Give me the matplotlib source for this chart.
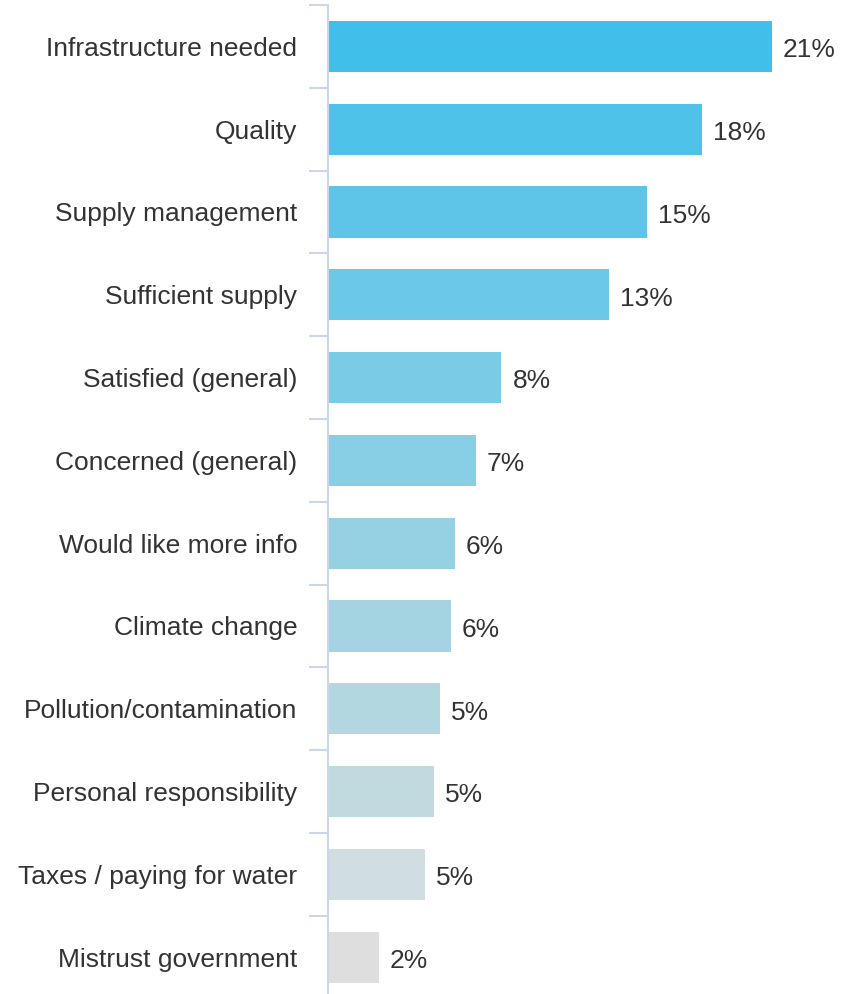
import matplotlib.pyplot as plt
from matplotlib.ticker import FixedLocator

plt.rcParams['font.family'] = ['Liberation Sans', 'DejaVu Sans']

temas = ['Infrastructure needed', 'Quality', 'Supply management', 'Sufficient supply',
         'Satisfied (general)', 'Concerned (general)', 'Would like more info',
         'Climate change', 'Pollution/contamination', 'Personal responsibility',
         'Taxes / paying for water', 'Mistrust government']
porcentagens = [21.0, 17.7, 15.1, 13.3, 8.2, 7.0, 6.0, 5.8, 5.3, 5.0, 4.6, 2.4]
cores = ['#40BFEA', '#4FC2E9', '#5EC5E8', '#6CC8E7', '#7ACBE5', '#88CEE4',
         '#96D1E3', '#A4D4E2', '#B3D7E1', '#C1DAE0', '#D0DDE1', '#DEDEDE']

eixo_cor = '#CCD6EB'
texto_cor = '#333333'
tam = 19

fig = plt.figure(figsize=(8.64, 9.94), dpi=100)
ax = fig.add_axes([328 / 864, 0.0, 1 - 328 / 864, 1 - 5 / 994])

pos = list(range(len(temas)))
ax.barh(pos, porcentagens, height=0.62, color=cores)

for y, v in zip(pos, porcentagens):
    ax.annotate(f'{v:.0f}%', (v, y), xytext=(8, -1), textcoords='offset points',
                va='center_baseline', ha='left', fontsize=tam, color=texto_cor)

ax.set_xlim(0, 536 / 21.14)
ax.set_ylim(-0.5 + 989 / 82.8, -0.5)

ax.set_yticks(pos)
ax.set_yticklabels(temas, fontsize=tam, color=texto_cor, va='center_baseline')
ax.tick_params(axis='y', which='major', length=0, pad=22)
ax.yaxis.set_minor_locator(FixedLocator([i - 0.5 for i in range(len(temas) + 1)]))
ax.tick_params(axis='y', which='minor', length=14, width=1.5, color=eixo_cor)

ax.set_xticks([])
for lado in ['top', 'right', 'bottom']:
    ax.spines[lado].set_visible(False)
ax.spines['left'].set_color(eixo_cor)
ax.spines['left'].set_linewidth(1.5)

fig.savefig('out.png', dpi=100)
